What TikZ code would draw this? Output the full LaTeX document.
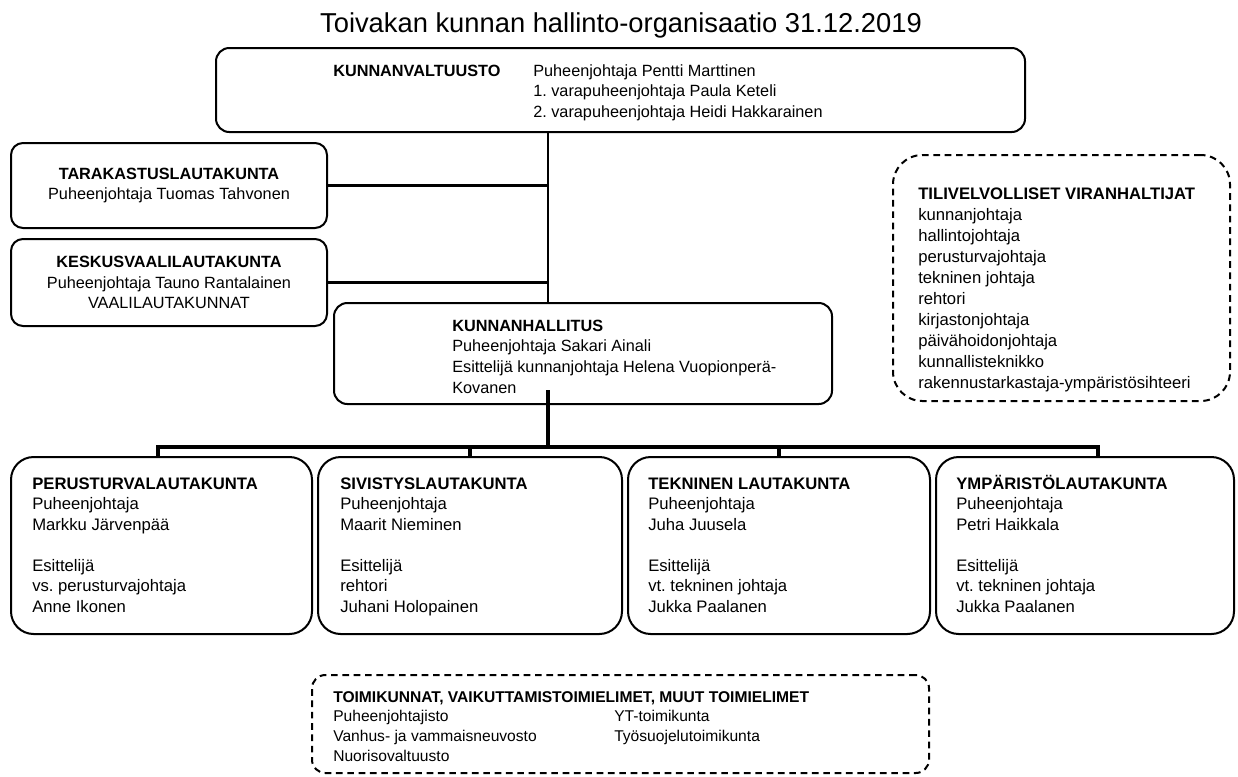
\documentclass[tikz,border=0pt]{standalone}
\usepackage{fontspec}
\setmainfont{Liberation Sans}
\usetikzlibrary{fit}
\frenchspacing
\newcommand\mystrut{\rule{0pt}{11.6pt}}
\newcommand\mybody{\fontsize{12.2}{15.5}\selectfont}
\newcommand\mytvfont{\fontsize{12.5}{15.75}\selectfont}
\newcommand\mylowfont{\fontsize{12.5}{15.4}\selectfont}
\newcommand\mysmall{\fontsize{11.7}{14.8}\selectfont}
\begin{document}
\begin{tikzpicture}[x=0.75pt,y=-0.75pt,
  box/.style={draw=black, line width=1.5pt, inner sep=0pt},
  dbox/.style={draw=black, line width=1.5pt, dash pattern=on 5pt off 3.5pt, inner sep=0pt},
  txt/.style={anchor=north west, inner sep=0pt, align=left, font=\mybody},
  ctxt/.style={anchor=center, inner sep=0pt, align=center, font=\mybody},
  conn/.style={line width=1.8pt},
  bus/.style={line width=2.3pt},
]
\fill[white] (0,0) rectangle (1238,776);
\useasboundingbox (0,0) rectangle (1238,776);

% title
\node[anchor=base, inner sep=0pt, font=\fontsize{20.5}{24}\selectfont] (title) at (621,32) {Toivakan kunnan hallinto-organisaatio 31.12.2019};

% boxes
\node[box, rounded corners=10pt, fit={(216,48) (1025,132)}] (kv) {};
\node[box, rounded corners=9pt, fit={(11,143) (327,228)}] (tk) {};
\node[box, rounded corners=9pt, fit={(11,239) (327,326)}] (kvl) {};
\node[box, rounded corners=10pt, fit={(334,303) (832,404)}] (kh) {};
\node[dbox, rounded corners=22pt, fit={(893,155) (1230,401)}] (tv) {};
\node[box, rounded corners=17pt, fit={(11,457) (312,634)}] (b1) {};
\node[box, rounded corners=17pt, fit={(318,457) (622,634)}] (b2) {};
\node[box, rounded corners=17pt, fit={(628,457) (930,634)}] (b3) {};
\node[box, rounded corners=17pt, fit={(936,457) (1234,634)}] (b4) {};
\node[dbox, rounded corners=10pt, fit={(312,675) (929,773)}] (tm) {};

% texts
\node[txt] (kvh) at (333,60.5) {\mystrut\bfseries KUNNANVALTUUSTO};
\node[txt] (kvr) at (533,60.5) {\mystrut Puheenjohtaja Pentti Marttinen\\1. varapuheenjohtaja Paula Keteli\\2. varapuheenjohtaja Heidi Hakkarainen};
\node[ctxt] (tkt) at (tk.center) {{\bfseries TARAKASTUSLAUTAKUNTA}\\Puheenjohtaja Tuomas Tahvonen};
\node[ctxt] (kvlt) at (kvl.center) {{\bfseries KESKUSVAALILAUTAKUNTA}\\Puheenjohtaja Tauno Rantalainen\\VAALILAUTAKUNNAT};
\node[txt] (kht) at (452,315.5) {\mystrut\textbf{KUNNANHALLITUS}\\Puheenjohtaja Sakari Ainali\\Esittelijä kunnanjohtaja Helena Vuopionperä-\\Kovanen};
\node[txt, font=\mytvfont] (tvt) at (918,183.5) {\mystrut\textbf{TILIVELVOLLISET VIRANHALTIJAT}\\kunnanjohtaja\\hallintojohtaja\\perusturvajohtaja\\tekninen johtaja\\rehtori\\kirjastonjohtaja\\päivähoidonjohtaja\\kunnallisteknikko\\rakennustarkastaja-ympäristösihteeri};
\node[txt, font=\mylowfont] (b1t) at (32,473.5) {\mystrut\textbf{PERUSTURVALAUTAKUNTA}\\Puheenjohtaja\\Markku Järvenpää\\[15.4pt]Esittelijä\\vs. perusturvajohtaja\\Anne Ikonen};
\node[txt, font=\mylowfont] (b2t) at (340,473.5) {\mystrut\textbf{SIVISTYSLAUTAKUNTA}\\Puheenjohtaja\\Maarit Nieminen\\[15.4pt]Esittelijä\\rehtori\\Juhani Holopainen};
\node[txt, font=\mylowfont] (b3t) at (648,473.5) {\mystrut\textbf{TEKNINEN LAUTAKUNTA}\\Puheenjohtaja\\Juha Juusela\\[15.4pt]Esittelijä\\vt. tekninen johtaja\\Jukka Paalanen};
\node[txt, font=\mylowfont] (b4t) at (956,473.5) {\mystrut\textbf{YMPÄRISTÖLAUTAKUNTA}\\Puheenjohtaja\\Petri Haikkala\\[15.4pt]Esittelijä\\vt. tekninen johtaja\\Jukka Paalanen};
\node[txt, font=\mysmall] (tmt) at (333,686.5) {\mystrut\textbf{TOIMIKUNNAT, VAIKUTTAMISTOIMIELIMET, MUUT TOIMIELIMET}\\Puheenjohtajisto\\Vanhus- ja vammaisneuvosto\\Nuorisovaltuusto};
\node[txt, font=\mysmall] (tmr) at (614,706.2) {\mystrut YT-toimikunta\\Työsuojelutoimikunta};

% connectors
\coordinate (tx) at (548,0);
\coordinate (bl) at (158,447);
\coordinate (br) at (1098,447);
\draw[conn] (kv.south -| tx) -- (kh.north -| tx);
\draw[conn] (tk.east) -- (tk.east -| tx);
\draw[conn] (kvl.east) -- (kvl.east -| tx);
\draw[bus] (kh.south -| tx) ++(0,-15) -- (bl -| tx);
\draw[bus] (bl |- b1.north) -- (bl) -- (br) -- (br |- b4.north);
\draw[bus] (b2.north |- bl) -- (b2.north);
\draw[bus] (b3.north |- bl) -- (b3.north);
\end{tikzpicture}
\end{document}
